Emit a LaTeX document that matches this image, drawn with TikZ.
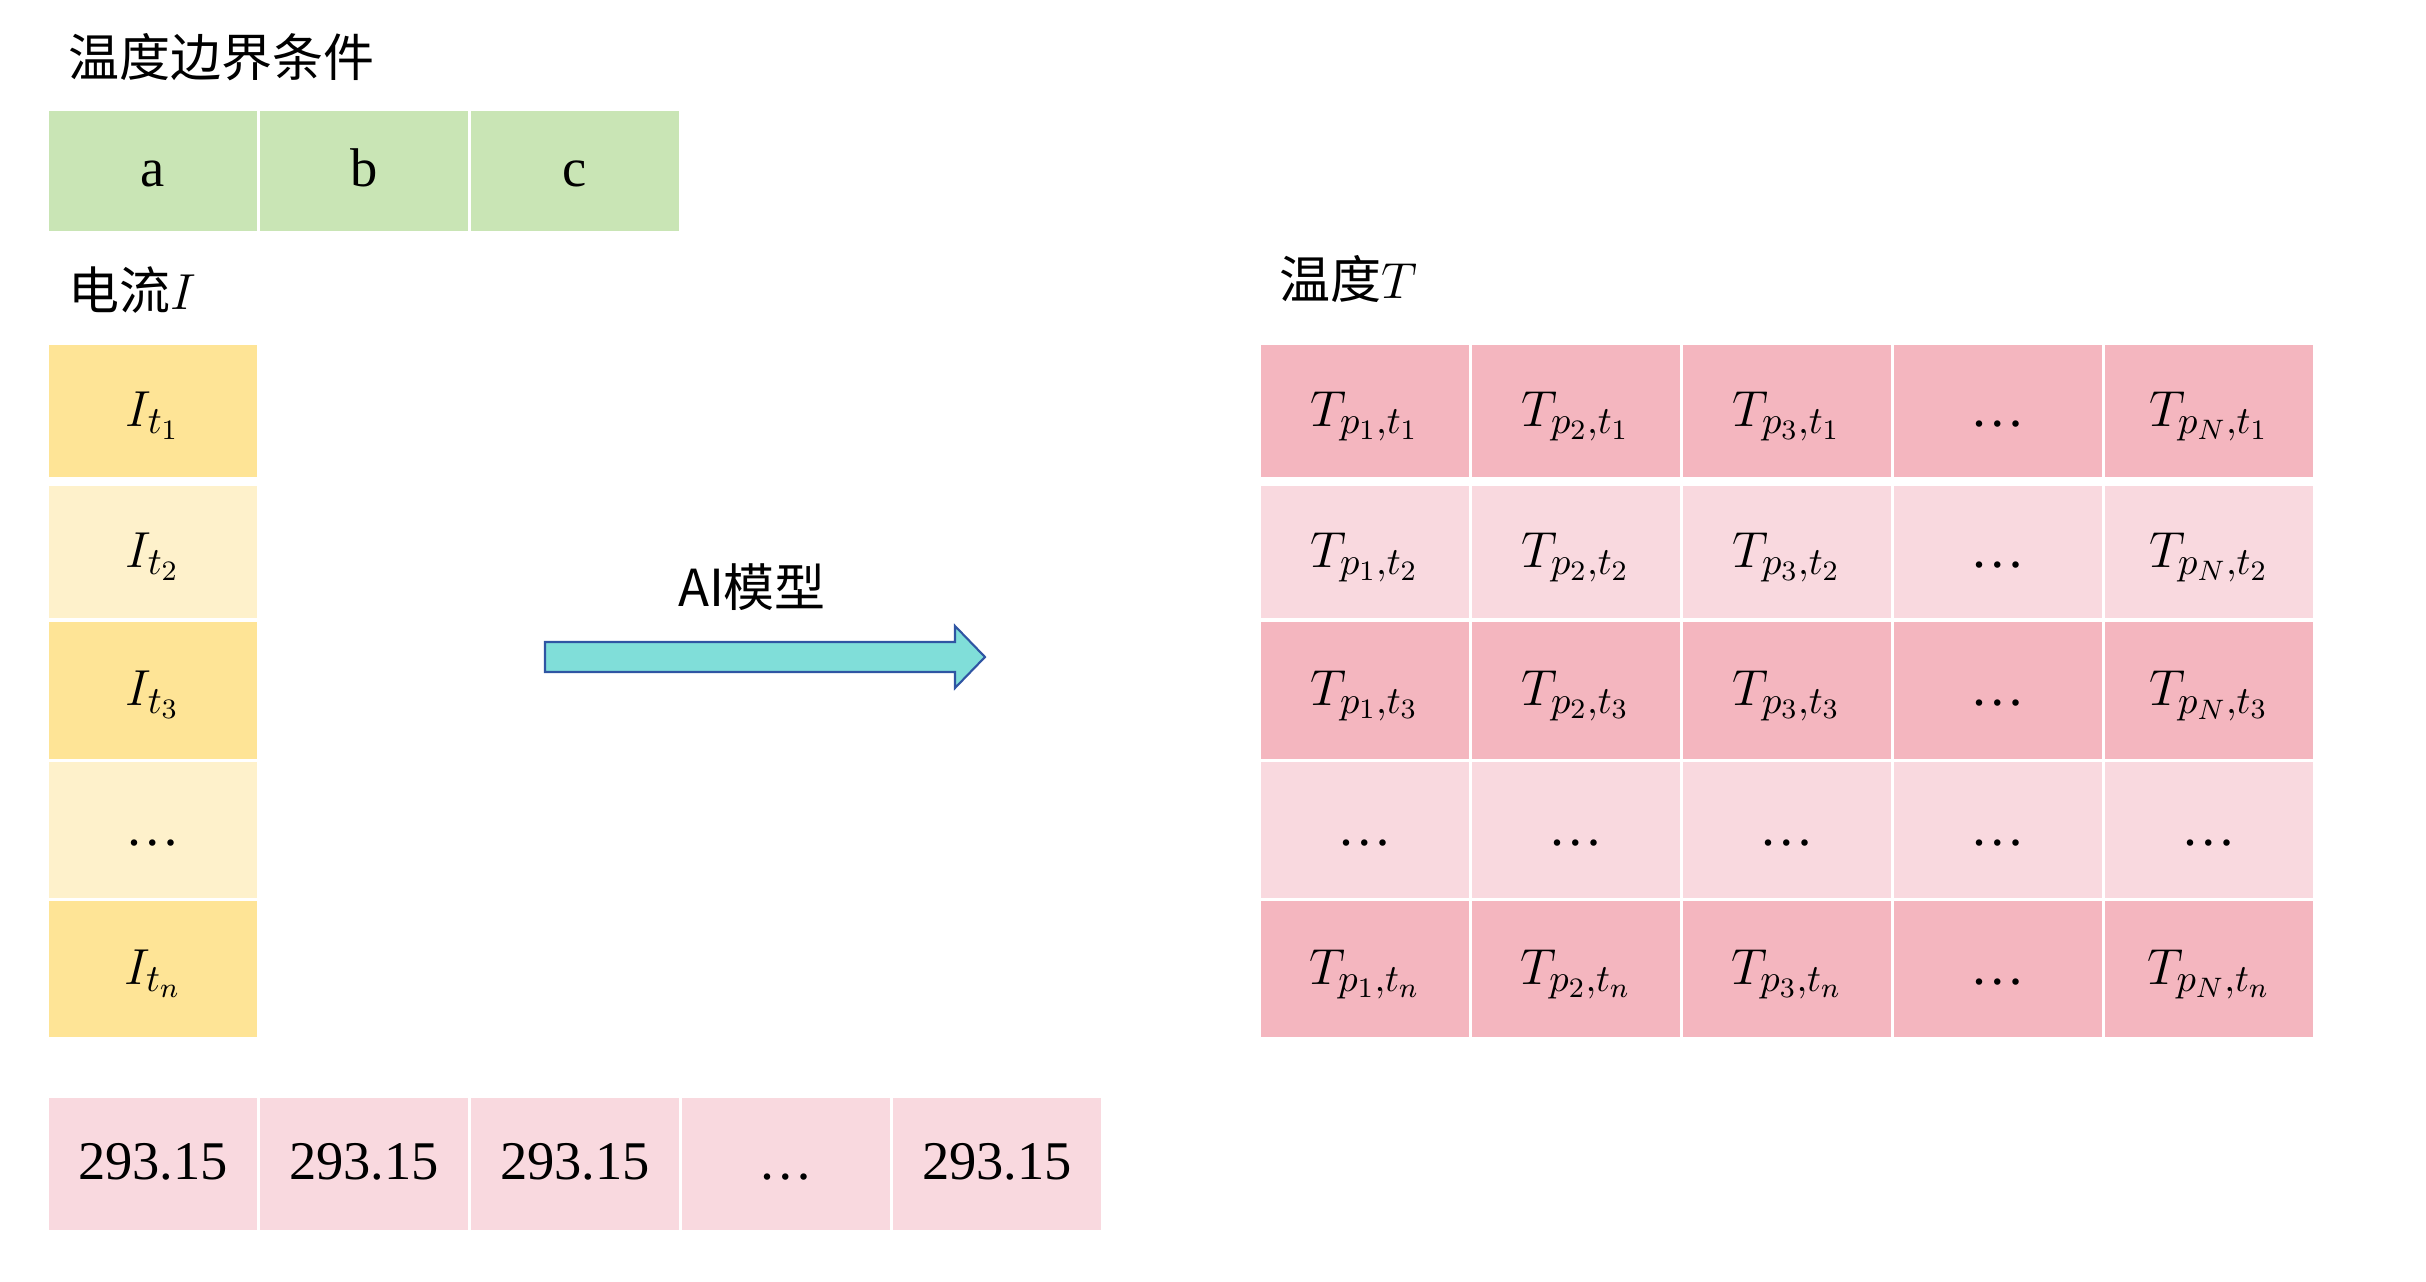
\documentclass[tikz,border=0pt]{standalone}
\usepackage{fontspec}
\setmainfont{Liberation Serif}
\newfontfamily\cjk{Noto Sans CJK SC}
\definecolor{gfill}{HTML}{C9E5B5}
\definecolor{ydark}{HTML}{FEE496}
\definecolor{ylight}{HTML}{FEF1CB}
\definecolor{pdark}{HTML}{F4B6BF}
\definecolor{plight}{HTML}{F9D9DF}
\definecolor{afill}{HTML}{80DED9}
\definecolor{adraw}{HTML}{2F55A3}
\begin{document}
\begin{tikzpicture}[x=0.01cm,y=-0.01cm,
  cell/.style={anchor=north west, inner sep=0pt, outer sep=0pt, draw=none,
    minimum width=2.08cm, text height=0.38cm, text depth=0.08cm,
    font=\fontsize{15.5}{18}\selectfont},
  head/.style={anchor=west, inner sep=0pt, font=\cjk\fontsize{14.5}{17}\selectfont},
  rA/.style={minimum height=1.32cm},
  rB/.style={minimum height=1.32cm},
  rC/.style={minimum height=1.37cm},
  rD/.style={minimum height=1.36cm},
  rE/.style={minimum height=1.36cm},
  bigarrow/.style={fill=afill, draw=adraw, line width=0.6pt, line join=miter}
]
\useasboundingbox (0,0) rectangle (2426,1281);

% headings
\node[head] (h1) at (68,57) {温度边界条件};
\node[head] (h2) at (68,290) {电流$I$};
\node[head] (h3) at (1279,279) {温度$T$};

% boundary conditions
\node[cell, fill=gfill, minimum height=1.20cm] (g1) at (49,111) {a};
\node[cell, fill=gfill, minimum height=1.20cm] (g2) at (260,111) {b};
\node[cell, fill=gfill, minimum height=1.20cm] (g3) at (471,111) {c};

% current column
\node[cell, rA, fill=ydark]  (y1) at (49,345) {$I_{t_1}$};
\node[cell, rB, fill=ylight] (y2) at (49,486) {$I_{t_2}$};
\node[cell, rC, fill=ydark]  (y3) at (49,622) {$I_{t_3}$};
\node[cell, rD, fill=ylight] (y4) at (49,762) {…};
\node[cell, rE, fill=ydark]  (y5) at (49,901) {$I_{t_n}$};

% arrow
\filldraw[bigarrow] (545,642) -- (955,642) -- (955,626) -- (985,657)
  -- (955,688) -- (955,672) -- (545,672) -- cycle;
\node[inner sep=0pt, font=\cjk\fontsize{14.5}{17}\selectfont] (ai) at (752,587) {AI模型};

% temperature grid
\foreach \c/\x/\p in {1/1261/p_1,2/1472/p_2,3/1683/p_3,5/2105/p_N}{
  \node[cell, rA, fill=pdark]  (t1\c) at (\x,345) {$T_{\p,t_1}$};
  \node[cell, rB, fill=plight] (t2\c) at (\x,486) {$T_{\p,t_2}$};
  \node[cell, rC, fill=pdark]  (t3\c) at (\x,622) {$T_{\p,t_3}$};
  \node[cell, rD, fill=plight] (t4\c) at (\x,762) {…};
  \node[cell, rE, fill=pdark]  (t5\c) at (\x,901) {$T_{\p,t_n}$};
}
\node[cell, rA, fill=pdark]  (t14) at (1894,345) {…};
\node[cell, rB, fill=plight] (t24) at (1894,486) {…};
\node[cell, rC, fill=pdark]  (t34) at (1894,622) {…};
\node[cell, rD, fill=plight] (t44) at (1894,762) {…};
\node[cell, rE, fill=pdark]  (t54) at (1894,901) {…};

% bottom row
\node[cell, fill=plight, minimum height=1.32cm] (b1) at (49,1098) {293.15};
\node[cell, fill=plight, minimum height=1.32cm] (b2) at (260,1098) {293.15};
\node[cell, fill=plight, minimum height=1.32cm] (b3) at (471,1098) {293.15};
\node[cell, fill=plight, minimum height=1.32cm] (b4) at (682,1098) {…};
\node[cell, fill=plight, minimum height=1.32cm] (b5) at (893,1098) {293.15};
\end{tikzpicture}
\end{document}
